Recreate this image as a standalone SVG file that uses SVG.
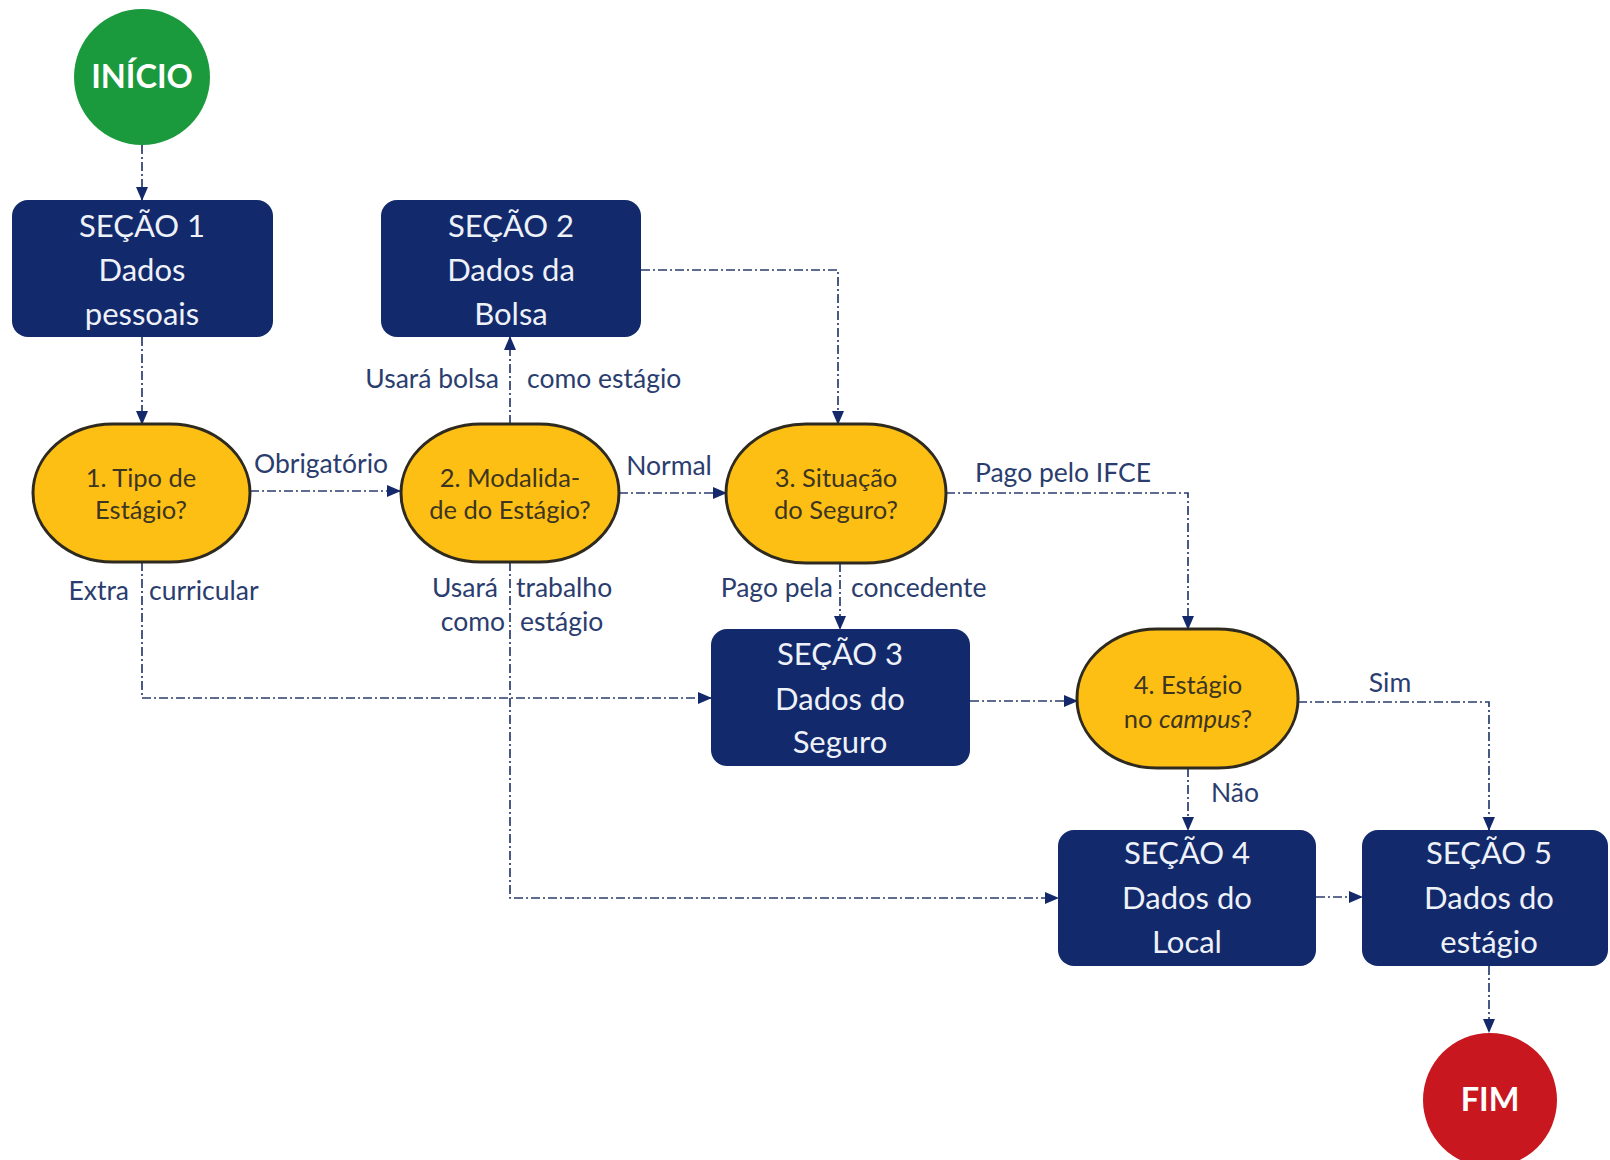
<svg xmlns="http://www.w3.org/2000/svg" width="1610" height="1160" viewBox="0 0 1610 1160">
<defs>
<marker id="ah" markerUnits="userSpaceOnUse" markerWidth="14" markerHeight="12" refX="13" refY="6" orient="auto">
<path d="M0,0 L14,6 L0,12 z" fill="#13296b"/>
</marker>
<style>
.box{fill:#12296b;}
.bt{font-family:Lato,"Liberation Sans",sans-serif;font-size:31px;fill:#eef1f8;text-anchor:middle;}
.dec{fill:#fdbf14;stroke:#2e2a20;stroke-width:3;}
.dt{font-family:Lato,"Liberation Sans",sans-serif;font-size:25.5px;fill:#3d3520;text-anchor:middle;}
.lbl{font-family:Lato,"Liberation Sans",sans-serif;font-size:26.5px;fill:#2a3d6e;}
.c{fill:none;stroke:#2a3d6e;stroke-width:1.6;stroke-dasharray:9,3,2,3;}
.ca{fill:none;stroke:#2a3d6e;stroke-width:1.7;stroke-dasharray:9,3,2,3;marker-end:url(#ah);}
.term{font-family:Lato,"Liberation Sans",sans-serif;font-size:32.5px;font-weight:bold;fill:#ffffff;text-anchor:middle;}
</style>
</defs>
<rect width="1610" height="1160" fill="#ffffff"/>

<g id="connectors">
<path class="ca" d="M142,145 L142,200"/>
<path class="ca" d="M142,337 L142,424"/>
<path class="ca" d="M250,491 L400,491"/>
<path class="ca" d="M510,424 L510,337"/>
<path class="ca" d="M619,493 L726,493"/>
<path class="ca" d="M641,270 L838,270 L838,424"/>
<path class="ca" d="M946,493 L1188,493 L1188,629"/>
<path class="ca" d="M840,563 L840,629"/>
<path class="ca" d="M142,562 L142,698 L711,698"/>
<path class="ca" d="M510,562 L510,898 L1058,898"/>
<path class="ca" d="M970,701 L1077,701"/>
<path class="ca" d="M1298,702 L1489,702 L1489,830"/>
<path class="ca" d="M1188,768 L1188,830"/>
<path class="ca" d="M1316,897 L1362,897"/>
<path class="ca" d="M1489,966 L1489,1032"/>
<text class="lbl" x="321" y="473" text-anchor="middle">Obrigatório</text>
<text class="lbl" x="499" y="388" text-anchor="end">Usará bolsa</text>
<text class="lbl" x="527" y="388">como estágio</text>
<text class="lbl" x="669" y="475" text-anchor="middle">Normal</text>
<text class="lbl" x="1063" y="482" text-anchor="middle">Pago pelo IFCE</text>
<text class="lbl" x="833" y="597" text-anchor="end">Pago pela</text>
<text class="lbl" x="851" y="597">concedente</text>
<text class="lbl" x="129" y="600" text-anchor="end">Extra</text>
<text class="lbl" x="149" y="600">curricular</text>
<text class="lbl" x="498" y="597" text-anchor="end">Usará</text>
<text class="lbl" x="516" y="597">trabalho</text>
<text class="lbl" x="505" y="631" text-anchor="end">como</text>
<text class="lbl" x="520" y="631">estágio</text>
<text class="lbl" x="1390" y="692" text-anchor="middle">Sim</text>
<text class="lbl" x="1211" y="802">Não</text>
</g>

<g id="inicio">
<circle cx="142" cy="77" r="68" fill="#1a9a3c"/>
<text class="term" x="142" y="88">INÍCIO</text>
</g>

<g id="secao1">
<rect class="box" x="12" y="200" width="261" height="137" rx="16"/>
<text class="bt" x="142" y="237">SEÇÃO 1</text>
<text class="bt" x="142" y="281">Dados</text>
<text class="bt" x="142" y="325">pessoais</text>
</g>

<g id="secao2">
<rect class="box" x="381" y="200" width="260" height="137" rx="16"/>
<text class="bt" x="511" y="237">SEÇÃO 2</text>
<text class="bt" x="511" y="281">Dados da</text>
<text class="bt" x="511" y="325">Bolsa</text>
</g>

<g id="decisao1">
<rect class="dec" x="33" y="424" width="217" height="138" rx="80" ry="69"/>
<text class="dt" x="141" y="487">1. Tipo de</text>
<text class="dt" x="141" y="519">Estágio?</text>
</g>

<g id="decisao2">
<rect class="dec" x="401" y="424" width="218" height="138" rx="80" ry="69"/>
<text class="dt" x="510" y="487">2. Modalida-</text>
<text class="dt" x="510" y="519">de do Estágio?</text>
</g>

<g id="decisao3">
<rect class="dec" x="726" y="424" width="220" height="139" rx="80" ry="69"/>
<text class="dt" x="836" y="487">3. Situação</text>
<text class="dt" x="836" y="519">do Seguro?</text>
</g>

<g id="secao3">
<rect class="box" x="711" y="629" width="259" height="137" rx="16"/>
<text class="bt" x="840" y="665">SEÇÃO 3</text>
<text class="bt" x="840" y="710">Dados do</text>
<text class="bt" x="840" y="753">Seguro</text>
</g>

<g id="decisao4">
<rect class="dec" x="1077" y="629" width="221" height="139" rx="80" ry="69"/>
<text class="dt" x="1188" y="694">4. Estágio</text>
<text class="dt" x="1188" y="728">no <tspan font-style="italic">campus</tspan>?</text>
</g>

<g id="secao4">
<rect class="box" x="1058" y="830" width="258" height="136" rx="16"/>
<text class="bt" x="1187" y="864">SEÇÃO 4</text>
<text class="bt" x="1187" y="909">Dados do</text>
<text class="bt" x="1187" y="953">Local</text>
</g>

<g id="secao5">
<rect class="box" x="1362" y="830" width="246" height="136" rx="16"/>
<text class="bt" x="1489" y="864">SEÇÃO 5</text>
<text class="bt" x="1489" y="909">Dados do</text>
<text class="bt" x="1489" y="953">estágio</text>
</g>

<g id="fim">
<circle cx="1490" cy="1100" r="67" fill="#c8171e"/>
<text class="term" x="1490" y="1111">FIM</text>
</g>
</svg>
